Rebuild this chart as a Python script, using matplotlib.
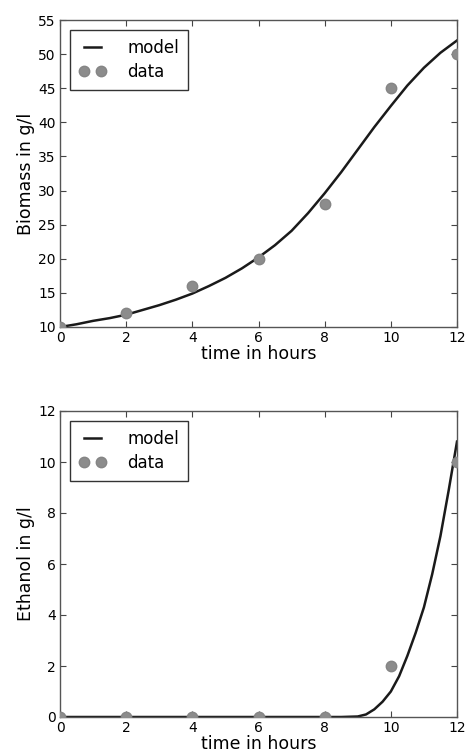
import matplotlib
matplotlib.use("Agg")
import matplotlib.pyplot as plt

# measured data
t_data = [0, 2, 4, 6, 8, 10, 12]
biomass_data = [10, 12, 16, 20, 28, 45, 50]
ethanol_data = [0, 0, 0, 0, 0, 2, 10]

# model curves
t_model_b = [0, 0.5, 1, 1.5, 2, 2.5, 3, 3.5, 4, 4.5, 5, 5.5, 6, 6.5, 7, 7.5,
             8, 8.5, 9, 9.5, 10, 10.5, 11, 11.5, 12]
biomass_model = [10.0, 10.4, 10.9, 11.3, 11.8, 12.5, 13.2, 14.0, 14.9, 16.0,
                 17.2, 18.6, 20.2, 22.0, 24.1, 26.7, 29.6, 32.7, 36.0, 39.3,
                 42.4, 45.4, 48.0, 50.2, 52.0]
t_model_e = [0, 2, 4, 6, 8, 8.5, 9, 9.25, 9.5, 9.75, 10, 10.25, 10.5, 10.75,
             11, 11.25, 11.5, 11.75, 12]
ethanol_model = [0, 0, 0, 0, 0, 0, 0.02, 0.1, 0.3, 0.6, 1.0, 1.6, 2.4, 3.3,
                 4.3, 5.6, 7.1, 8.9, 10.8]

W, H = 469, 754
fig = plt.figure(figsize=(W / 100, H / 100), dpi=100, facecolor="white")

ax1 = fig.add_axes([60 / W, (H - 327) / H, 397 / W, 307 / H])
ax2 = fig.add_axes([60 / W, (H - 717) / H, 397 / W, 306 / H])

specs = [
    (ax1, t_model_b, biomass_model, biomass_data, "Biomass in g/l", (10, 55), range(10, 56, 5)),
    (ax2, t_model_e, ethanol_model, ethanol_data, "Ethanol in g/l", (0, 12), range(0, 13, 2)),
]

for ax, tm, ym, yd, ylabel, ylim, yt in specs:
    ax.plot(tm, ym, color="#1a1a1a", lw=1.8, label="model", zorder=2)
    ax.plot(t_data, yd, "o", color="#8c8c8c", mec="#858585", ms=7.5,
            label="data", zorder=3)
    ax.set_xlim(0, 12)
    ax.set_ylim(*ylim)
    ax.set_xticks(range(0, 13, 2))
    ax.set_yticks(list(yt))
    ax.tick_params(direction="in", top=True, right=True, length=4,
                   width=0.8, labelsize=10, color="#444444", pad=3)
    for s in ax.spines.values():
        s.set_color("#555555")
        s.set_linewidth(1.0)
    ax.set_xlabel("time in hours", fontsize=12.5, labelpad=0)
    ax.set_ylabel(ylabel, fontsize=12.5, labelpad=2)
    leg = ax.legend(loc="upper left", numpoints=2, fontsize=12,
                    handlelength=1.6, fancybox=False, framealpha=1,
                    borderaxespad=0.6, borderpad=0.55, handletextpad=1.3,
                    labelspacing=0.35)
    leg.get_frame().set_edgecolor("#333333")
    leg.get_frame().set_linewidth(1.0)

fig.savefig("out.png", dpi=100, facecolor="white")
